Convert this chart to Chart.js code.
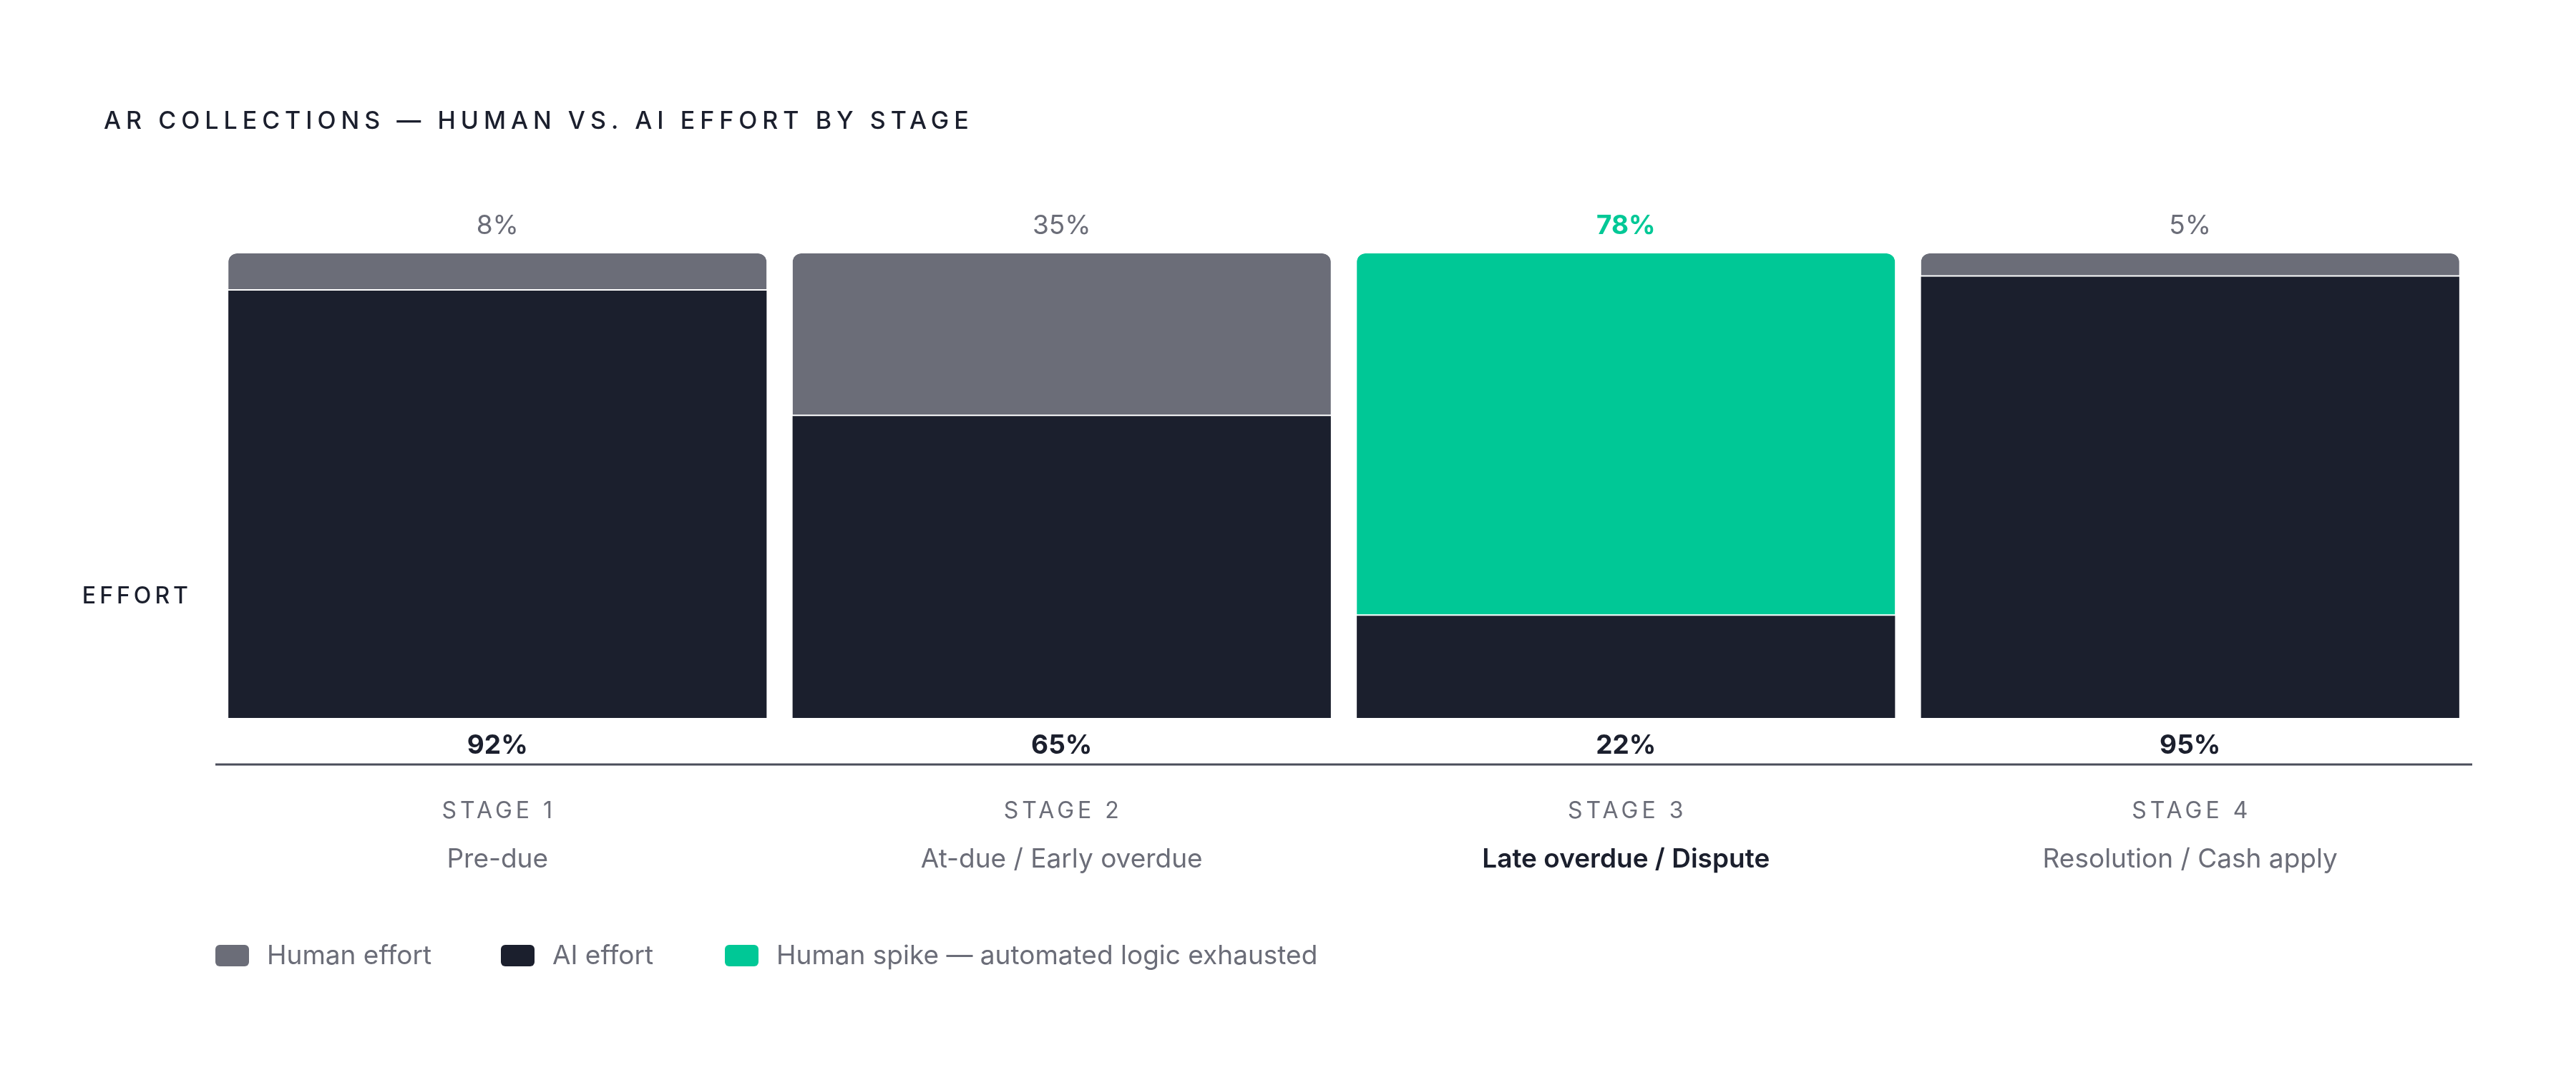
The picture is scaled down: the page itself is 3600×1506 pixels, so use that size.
<!DOCTYPE html>
<html>
<head>
<meta charset="utf-8">
<script src="https://cdn.jsdelivr.net/npm/chart.js@4"></script>
<style>
  html, body { margin: 0; padding: 0; background: #fff; }
  #wrap { width: 3600px; height: 1506px; }
</style>
</head>
<body>
<div id="wrap"><canvas id="chart" width="3600" height="1506"></canvas></div>
<script>
const stageTags = ['STAGE 1', 'STAGE 2', 'STAGE 3', 'STAGE 4'];
const stageNames = ['Pre-due', 'At-due / Early overdue', 'Late overdue / Dispute', 'Resolution / Cash apply'];
const aiEffort = [92, 65, 22, 95];
const humanEffort = [8, 35, 78, 5];
const spikeIndex = 2;

const GRAY = '#6b6d78';
const DARK = '#1b1f2d';
const GREEN = '#00c896';
const FONT = 'Inter, "Noto Sans", sans-serif';

const labelsPlugin = {
  id: 'labels',
  afterDraw(chart) {
    const ctx = chart.ctx;
    const x = chart.scales.x;
    const area = chart.chartArea;
    ctx.save();

    // title
    ctx.fillStyle = DARK;
    ctx.font = '500 34px ' + FONT;
    ctx.letterSpacing = '7px';
    ctx.textAlign = 'left';
    ctx.textBaseline = 'middle';
    ctx.fillText('AR COLLECTIONS — HUMAN VS. AI EFFORT BY STAGE', 145, 170);

    // y label
    ctx.textAlign = 'right';
    ctx.font = '500 32px ' + FONT;
    ctx.letterSpacing = '5px';
    ctx.fillText('EFFORT', 268, 833);

    // baseline
    ctx.letterSpacing = '0px';
    ctx.strokeStyle = '#4a4d5a';
    ctx.lineWidth = 3;
    ctx.beginPath();
    ctx.moveTo(area.left, 1068);
    ctx.lineTo(area.right, 1068);
    ctx.stroke();

    ctx.textAlign = 'center';
    stageTags.forEach((tag, i) => {
      const cx = x.getPixelForValue(i);
      const spike = i === spikeIndex;
      ctx.font = (spike ? '700 ' : '400 ') + '37px ' + FONT;
      ctx.fillStyle = spike ? GREEN : GRAY;
      ctx.fillText(humanEffort[i] + '%', cx, 316);
      ctx.font = '700 37px ' + FONT;
      ctx.fillStyle = DARK;
      ctx.fillText(aiEffort[i] + '%', cx, 1042);
      ctx.font = '400 32px ' + FONT;
      ctx.letterSpacing = '5px';
      ctx.fillStyle = GRAY;
      ctx.fillText(tag, cx + 2, 1133);
      ctx.letterSpacing = '0px';
      ctx.font = (spike ? '600 ' : '400 ') + '37px ' + FONT;
      ctx.fillStyle = spike ? DARK : GRAY;
      ctx.fillText(stageNames[i], cx, 1201);
    });

    // legend
    const legend = [
      [GRAY, 'Human effort', 301],
      [DARK, 'AI effort', 700],
      [GREEN, 'Human spike — automated logic exhausted', 1013]
    ];
    ctx.textAlign = 'left';
    ctx.font = '400 37px ' + FONT;
    legend.forEach(([c, t, lx]) => {
      ctx.fillStyle = c;
      ctx.beginPath();
      ctx.roundRect(lx, 1320, 47, 30, 6);
      ctx.fill();
      ctx.fillStyle = GRAY;
      ctx.fillText(t, lx + 72, 1336);
    });
    ctx.restore();
  }
};

new Chart(document.getElementById('chart'), {
  type: 'bar',
  data: {
    labels: stageNames,
    datasets: [
      {
        label: 'AI effort',
        data: aiEffort,
        backgroundColor: DARK,
        borderWidth: 0,
        categoryPercentage: 1,
        barPercentage: 0.954
      },
      {
        label: 'Human effort',
        data: humanEffort,
        backgroundColor: humanEffort.map((v, i) => i === spikeIndex ? GREEN : GRAY),
        borderColor: 'rgba(255,255,255,0.6)',
        borderWidth: { bottom: 2, top: 0, left: 0, right: 0 },
        borderSkipped: false,
        borderRadius: { topLeft: 12, topRight: 12, bottomLeft: 0, bottomRight: 0 },
        categoryPercentage: 1,
        barPercentage: 0.954
      }
    ]
  },
  options: {
    responsive: false,
    animation: false,
    layout: { padding: { left: 301, right: 145, top: 354, bottom: 503 } },
    plugins: { legend: { display: false }, tooltip: { enabled: false } },
    scales: {
      x: { stacked: true, display: false },
      y: { stacked: true, display: false, min: 0, max: 100 }
    }
  },
  plugins: [labelsPlugin]
});
</script>
</body>
</html>
